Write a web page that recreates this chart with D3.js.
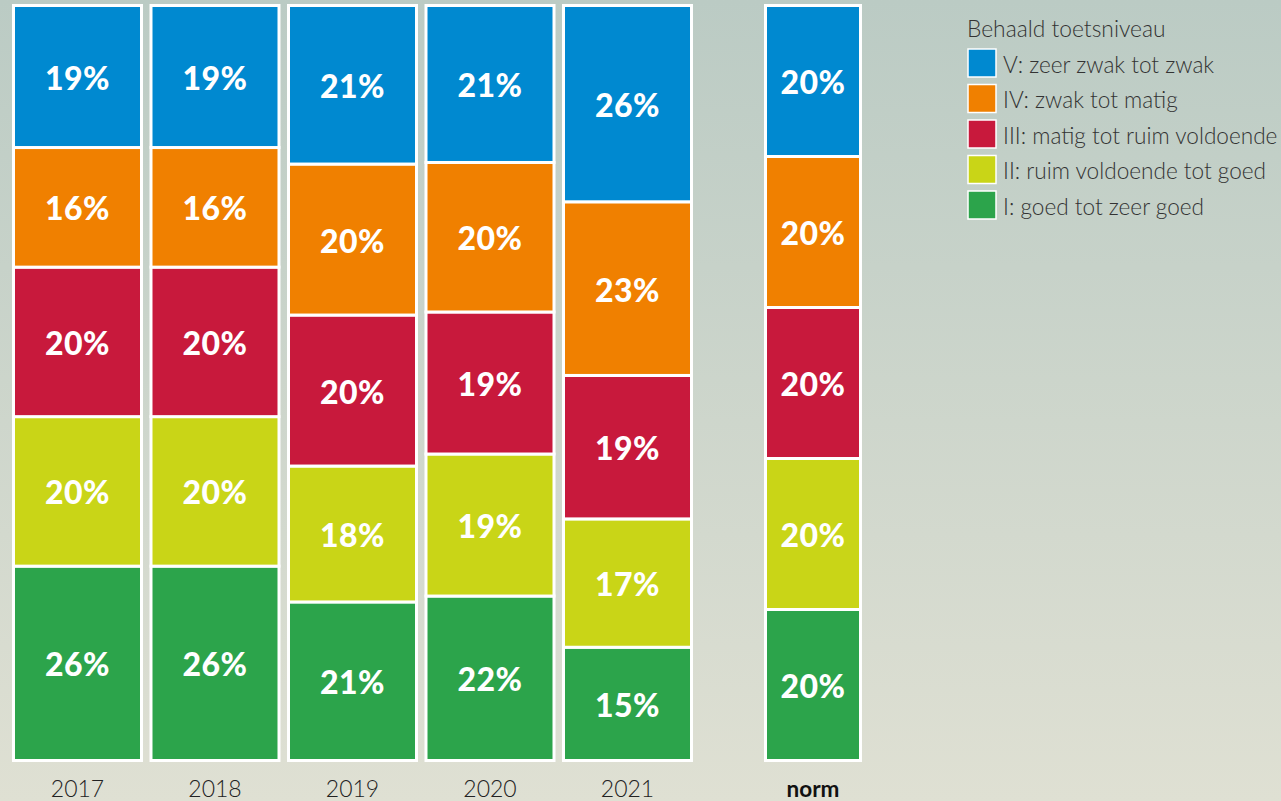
<!DOCTYPE html>
<html>
<head>
<meta charset="utf-8">
<script src="https://cdn.jsdelivr.net/npm/d3@7"></script>
<style>
html,body{margin:0;padding:0;}
body{width:1281px;height:801px;overflow:hidden;}
svg{display:block;}
</style>
</head>
<body>
<svg id="chart" width="1281" height="801"></svg>
<script>
// ---- data ----
const categories = ["2017", "2018", "2019", "2020", "2021", "norm"];
const levelKeys = ["I", "II", "III", "IV", "V"]; // bottom to top
const levelLabels = {
  V: "V: zeer zwak tot zwak",
  IV: "IV: zwak tot matig",
  III: "III: matig tot ruim voldoende",
  II: "II: ruim voldoende tot goed",
  I: "I: goed tot zeer goed"
};
const valuesV   = [19, 19, 21, 21, 26, 20];
const valuesIV  = [16, 16, 20, 20, 23, 20];
const valuesIII = [20, 20, 20, 19, 19, 20];
const valuesII  = [20, 20, 18, 19, 17, 20];
const valuesI   = [26, 26, 21, 22, 15, 20];
const legendTitle = "Behaald toetsniveau";

const colors = {
  V: "#0089d0",
  IV: "#f08000",
  III: "#c8193c",
  II: "#c9d517",
  I: "#2ca44b"
};

const table = categories.map((c, i) => ({
  cat: c, V: valuesV[i], IV: valuesIV[i], III: valuesIII[i], II: valuesII[i], I: valuesI[i]
}));

const svg = d3.select("#chart");
const W = 1281, H = 801;

// background gradient
const defs = svg.append("defs");
const grad = defs.append("linearGradient").attr("id", "bg").attr("x1", 0).attr("y1", 0).attr("x2", 0).attr("y2", 1);
grad.append("stop").attr("offset", "0%").attr("stop-color", "#bbcbc4");
grad.append("stop").attr("offset", "100%").attr("stop-color", "#dfe0d3");
svg.append("rect").attr("width", W).attr("height", H).attr("fill", "url(#bg)");

// scales
const years = categories.slice(0, 5);
const x = d3.scaleBand().domain(years).range([8.75, 696.25]).paddingInner(0.0473).paddingOuter(0.0236);
const normWidth = 98;
const normCenter = x("2021") + x.bandwidth() / 2 + x.step() * 1.349;
function barX(c) { return c === "norm" ? normCenter - normWidth / 2 : x(c); }
function barW(c) { return c === "norm" ? normWidth : x.bandwidth(); }

const y = d3.scaleLinear().domain([0, 1]).range([760.5, 5.5]);

const stack = d3.stack().keys(levelKeys).offset(d3.stackOffsetExpand);
const series = stack(table);

const sw = 3;
const gSeries = svg.append("g").selectAll("g").data(series).join("g")
  .attr("fill", d => colors[d.key]);

gSeries.selectAll("rect").data(d => d.map(v => ({ v, key: d.key }))).join("rect")
  .attr("x", d => barX(d.v.data.cat) + sw / 2)
  .attr("width", d => barW(d.v.data.cat) - sw)
  .attr("y", d => y(d.v[1]))
  .attr("height", d => y(d.v[0]) - y(d.v[1]))
  .attr("stroke", "#ffffff")
  .attr("stroke-width", sw);

gSeries.selectAll("text").data(d => d.map(v => ({ v, key: d.key }))).join("text")
  .attr("x", d => barX(d.v.data.cat) + barW(d.v.data.cat) / 2)
  .attr("y", d => (y(d.v[0]) + y(d.v[1])) / 2 + 13)
  .attr("text-anchor", "middle")
  .attr("fill", "#ffffff")
  .attr("font-family", "Lato, sans-serif")
  .attr("font-weight", 900)
  .attr("font-size", 32)
  .attr("letter-spacing", 0.5)
  .text(d => d.v.data[d.key] + "%");

// x axis (years)
const axis = svg.append("g").attr("transform", "translate(0,772)")
  .call(d3.axisBottom(x).tickSize(0).tickPadding(0));
axis.select(".domain").remove();
axis.selectAll("text")
  .attr("dy", "0")
  .attr("y", 25)
  .attr("fill", "#222")
  .attr("font-family", "Lato, sans-serif")
  .attr("font-weight", 300)
  .attr("font-size", 23);

svg.append("text")
  .attr("x", normCenter).attr("y", 797)
  .attr("text-anchor", "middle")
  .attr("fill", "#111")
  .attr("font-family", "Lato, sans-serif")
  .attr("font-weight", 700)
  .attr("font-size", 22.5)
  .text(categories[5]);

// legend
const lg = svg.append("g").attr("transform", "translate(967,0)");
lg.append("text").attr("x", 0).attr("y", 37)
  .attr("fill", "#333")
  .attr("font-family", "Lato, sans-serif")
  .attr("font-weight", 300)
  .attr("font-size", 22.8)
  .text(legendTitle);

const legendOrder = levelKeys.slice().reverse();
const ly = d3.scaleBand().domain(legendOrder).range([46, 46 + 5 * 35.5]);
const items = lg.selectAll("g.item").data(legendOrder).join("g").attr("class", "item")
  .attr("transform", d => `translate(0,${ly(d)})`);
items.append("rect")
  .attr("x", 1).attr("y", 3).attr("width", 28).attr("height", 28)
  .attr("fill", d => colors[d])
  .attr("stroke", "#ffffff").attr("stroke-width", 1.5);
items.append("text")
  .attr("x", 36).attr("y", 26.5)
  .attr("fill", "#333")
  .attr("font-family", "Lato, sans-serif")
  .attr("font-weight", 300)
  .attr("font-size", 22.6)
  .text(d => levelLabels[d]);
</script>
</body>
</html>
